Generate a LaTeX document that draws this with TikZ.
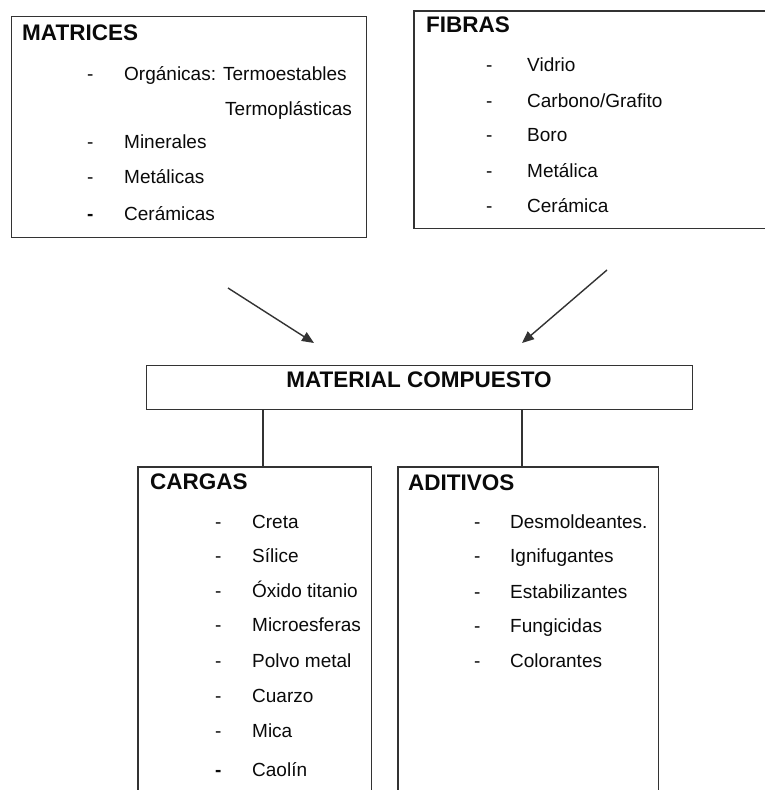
\documentclass[tikz,border=0pt]{standalone}
\usepackage{fontspec}
\setmainfont{Liberation Sans}
\usetikzlibrary{arrows.meta}
\definecolor{linec}{HTML}{333333}
\definecolor{txt}{HTML}{0A0A0A}
\newcommand\titlefont{\fontsize{22.5}{27}\selectfont\bfseries}
\newcommand\bodyfont{\fontsize{19}{23}\selectfont}
\begin{document}
\begin{tikzpicture}[x=1pt,y=-1pt,
  box/.style={draw=linec,line width=1.4pt},
  frame/.style={inner sep=0pt,anchor=north west},
  ttl/.style={anchor=base west,inner sep=0pt,text=txt,font=\titlefont},
  itm/.style={anchor=base west,inner sep=0pt,text=txt,font=\bodyfont},
  conn/.style={draw=linec,line width=1.4pt},
  arr/.style={conn,-{Triangle[length=12pt,width=10pt]}}]
\useasboundingbox[fill=white] (0,0) rectangle (765,790);

% MATRICES
\node[box,frame,minimum width=355pt,minimum height=221pt] (matrices) at (11,16) {};
\node[ttl] (mtitle) at (22,40) {MATRICES};
\node[itm] (md1) at (87,80) {-};
\node[itm] (m1) at (124,80) {Orgánicas: Termoestables};
\node[itm] (m1b) at (225,115) {Termoplásticas};
\node[itm] (md2) at (87,148) {-};
\node[itm] (m2) at (124,148) {Minerales};
\node[itm] (md3) at (87,183) {-};
\node[itm] (m3) at (124,183) {Metálicas};
\node[itm] (md4) at (87,220) {\textbf{-}};
\node[itm] (m4) at (124,220) {Cerámicas};

% FIBRAS
\node[frame,minimum width=360pt,minimum height=217pt] (fibras) at (414,11) {};
\draw[box] (fibras.north east) -| (fibras.south west) -- (fibras.south east);
\node[ttl] (ftitle) at (426,32) {FIBRAS};
\node[itm] (fd1) at (486,71) {-};
\node[itm] (f1) at (527,71) {Vidrio};
\node[itm] (fd2) at (486,107) {-};
\node[itm] (f2) at (527,107) {Carbono/Grafito};
\node[itm] (fd3) at (486,141) {-};
\node[itm] (f3) at (527,141) {Boro};
\node[itm] (fd4) at (486,177) {-};
\node[itm] (f4) at (527,177) {Metálica};
\node[itm] (fd5) at (486,212) {-};
\node[itm] (f5) at (527,212) {Cerámica};

% arrows
\coordinate (a1s) at (228,288);
\coordinate (a1e) at (314,343);
\coordinate (a2s) at (607,270);
\coordinate (a2e) at (522,343);
\draw[arr] (a1s) -- (a1e);
\draw[arr] (a2s) -- (a2e);

% MATERIAL COMPUESTO
\node[box,frame,minimum width=546pt,minimum height=44pt] (mc) at (146,365) {};
\node[ttl,anchor=base] (mctext) at (419,387) {MATERIAL COMPUESTO};

% CARGAS
\node[frame,minimum width=233pt,minimum height=340pt] (cargas) at (138,467) {};
\draw[box] (cargas.south west) |- (cargas.north east) -- (cargas.south east);
\node[ttl] (ctitle) at (150,489) {CARGAS};
\node[itm] (cd1) at (215,528) {-};
\node[itm] (c1) at (252,528) {Creta};
\node[itm] (cd2) at (215,562) {-};
\node[itm] (c2) at (252,562) {Sílice};
\node[itm] (cd3) at (215,597) {-};
\node[itm] (c3) at (252,597) {Óxido titanio};
\node[itm] (cd4) at (215,631) {-};
\node[itm] (c4) at (252,631) {Microesferas};
\node[itm] (cd5) at (215,667) {-};
\node[itm] (c5) at (252,667) {Polvo metal};
\node[itm] (cd6) at (215,702) {-};
\node[itm] (c6) at (252,702) {Cuarzo};
\node[itm] (cd7) at (215,737) {-};
\node[itm] (c7) at (252,737) {Mica};
\node[itm] (cd8) at (215,776) {\textbf{-}};
\node[itm] (c8) at (252,776) {Caolín};

% ADITIVOS
\node[frame,minimum width=260pt,minimum height=340pt] (aditivos) at (398,467) {};
\draw[box] (aditivos.south west) |- (aditivos.north east) -- (aditivos.south east);
\node[ttl] (atitle) at (408,490) {ADITIVOS};
\node[itm] (ad1) at (474,528) {-};
\node[itm] (a1) at (510,528) {Desmoldeantes.};
\node[itm] (ad2) at (474,562) {-};
\node[itm] (a2) at (510,562) {Ignifugantes};
\node[itm] (ad3) at (474,598) {-};
\node[itm] (a3) at (510,598) {Estabilizantes};
\node[itm] (ad4) at (474,632) {-};
\node[itm] (a4) at (510,632) {Fungicidas};
\node[itm] (ad5) at (474,667) {-};
\node[itm] (a5) at (510,667) {Colorantes};

% vertical connectors
\coordinate (v1) at (263,0);
\coordinate (v2) at (522,0);
\draw[conn] (mc.south -| v1) -- (cargas.north -| v1);
\draw[conn] (mc.south -| v2) -- (aditivos.north -| v2);
\end{tikzpicture}
\end{document}
